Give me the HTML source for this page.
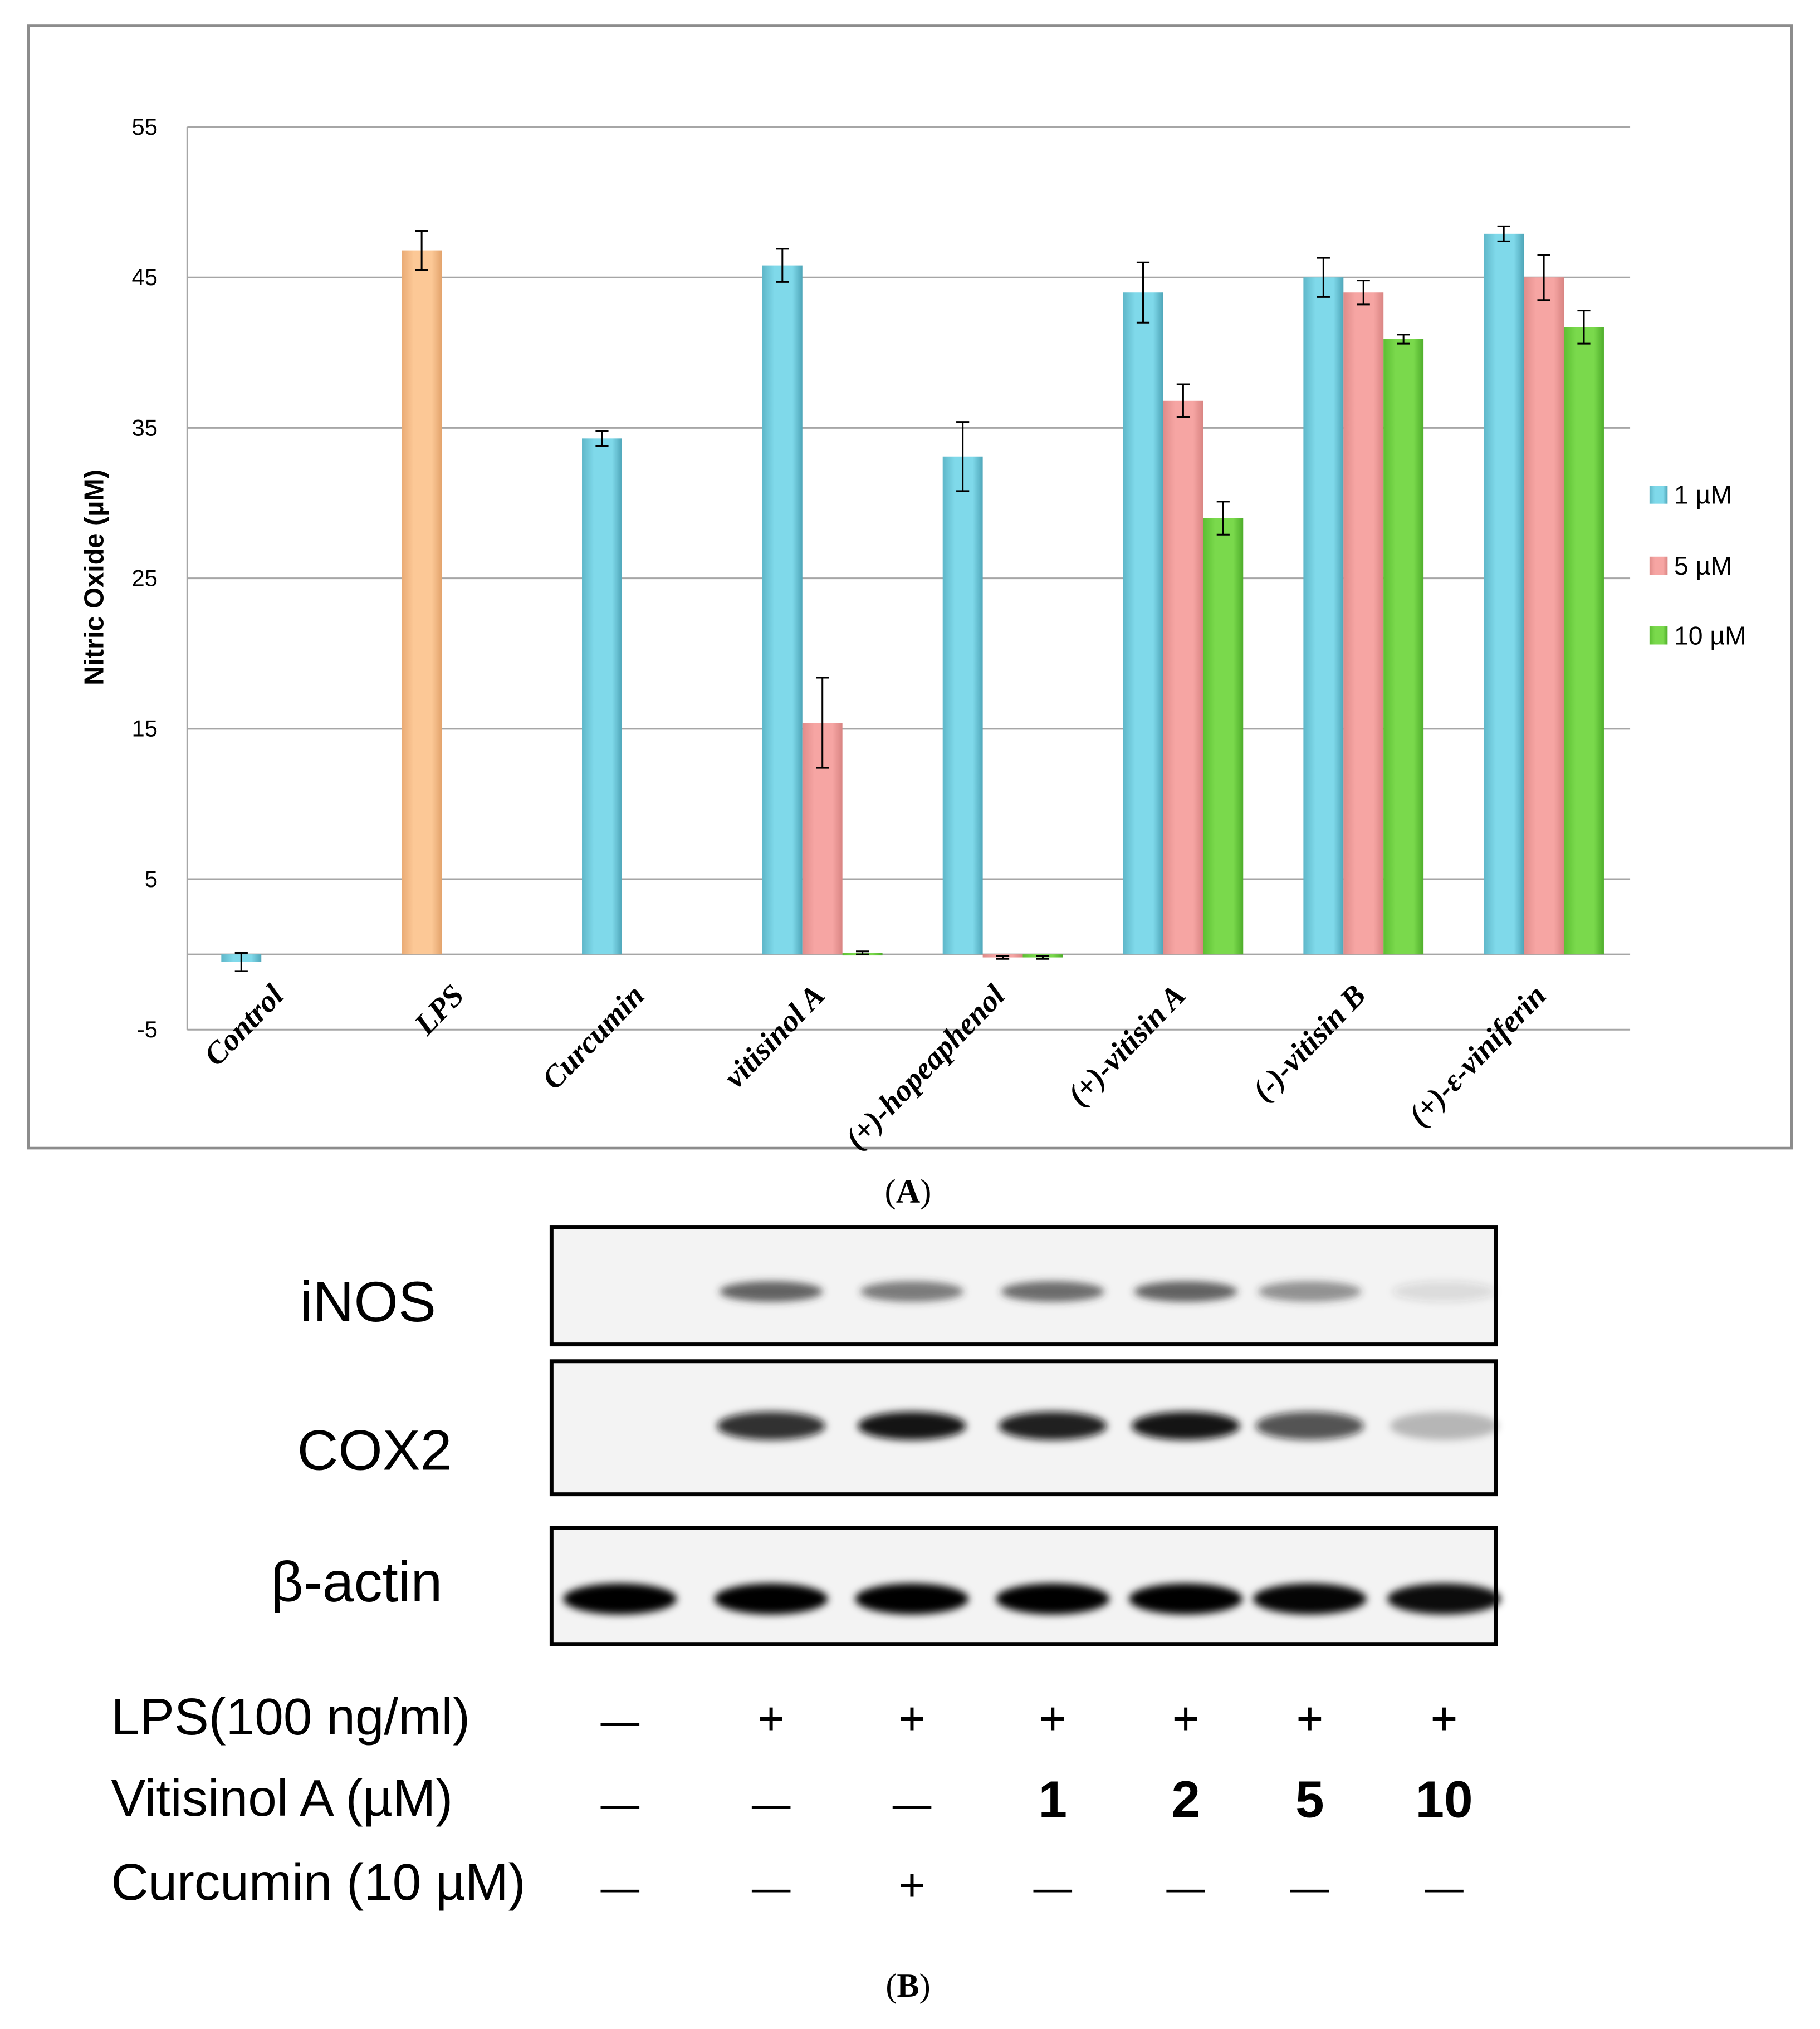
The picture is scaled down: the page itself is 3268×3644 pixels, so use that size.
<!DOCTYPE html>
<html><head><meta charset="utf-8"><style>
html,body{margin:0;padding:0;background:#fff;}
svg{display:block;}
</style></head><body>
<svg id="fig" width="3268" height="3644" viewBox="0 0 1409 1571" xmlns="http://www.w3.org/2000/svg">
<defs>
<filter id="blur3" x="-30%" y="-100%" width="160%" height="300%"><feGaussianBlur stdDeviation="3"/></filter>
<linearGradient id="gb" x1="0" x2="1"><stop offset="0" stop-color="#5fb7c9"/><stop offset="0.3" stop-color="#7fd9ea"/><stop offset="0.75" stop-color="#7fd9ea"/><stop offset="1" stop-color="#4fa6b9"/></linearGradient>
<linearGradient id="gp" x1="0" x2="1"><stop offset="0" stop-color="#e08c8a"/><stop offset="0.3" stop-color="#f6a5a3"/><stop offset="0.75" stop-color="#f6a5a3"/><stop offset="1" stop-color="#d98583"/></linearGradient>
<linearGradient id="gg" x1="0" x2="1"><stop offset="0" stop-color="#5cbf33"/><stop offset="0.3" stop-color="#7ad94c"/><stop offset="0.75" stop-color="#7ad94c"/><stop offset="1" stop-color="#4fae2b"/></linearGradient>
<linearGradient id="go" x1="0" x2="1"><stop offset="0" stop-color="#e9aa74"/><stop offset="0.3" stop-color="#fcc896"/><stop offset="0.75" stop-color="#fcc896"/><stop offset="1" stop-color="#e3a46d"/></linearGradient>
</defs>
<rect x="22" y="20" width="1365" height="869" fill="#fff" stroke="#8c8c8c" stroke-width="2"/>
<g id="grid"></g>
<g id="bars"></g>
<g id="errs"></g>
<g id="xlabels"></g>
<text transform="translate(80,447) rotate(-90)" text-anchor="middle" font-family="Liberation Sans, sans-serif" font-weight="bold" font-size="21">Nitric Oxide (µM)</text>
<g font-family="Liberation Sans, sans-serif" font-size="20">
<rect x="1277" y="376" width="14" height="14" fill="url(#gb)"/>
<text x="1296" y="390">1 µM</text>
<rect x="1277" y="431" width="14" height="14" fill="url(#gp)"/>
<text x="1296" y="445">5 µM</text>
<rect x="1277" y="485" width="14" height="14" fill="url(#gg)"/>
<text x="1296" y="499">10 µM</text>
</g>
<text x="703" y="931" text-anchor="middle" font-family="Liberation Serif, serif" font-size="26">(<tspan font-weight="bold">A</tspan>)</text>

<g id="blot"></g>
<g font-family="Liberation Sans, sans-serif" fill="#000">
<text x="285" y="1023" text-anchor="middle" font-size="44">iNOS</text>
<text x="290" y="1138" text-anchor="middle" font-size="44">COX2</text>
<text x="276" y="1240" text-anchor="middle" font-size="44">β-actin</text>
<text x="86" y="1343" font-size="40">LPS(100 ng/ml)</text>
<text x="86" y="1406" font-size="40">Vitisinol A (µM)</text>
<text x="86" y="1471" font-size="40">Curcumin (10 µM)</text>
</g>
<g id="signs" font-family="Liberation Sans, sans-serif"></g>
<text x="703" y="1546" text-anchor="middle" font-family="Liberation Serif, serif" font-size="26">(<tspan font-weight="bold">B</tspan>)</text>
</svg>
<script>
const categories=["Control","LPS","Curcumin","vitisinol A","(+)-hopeaphenol","(+)-vitisin A","(-)-vitisin B","(+)-ε-viniferin"];
const series1=[-0.5,null,34.3,45.8,33.1,44.0,45.0,47.9];
const err1=[0.6,null,0.5,1.1,2.3,2.0,1.3,0.5];
const series5=[null,null,null,15.4,-0.2,36.8,44.0,45.0];
const err5=[null,null,null,3.0,0.1,1.1,0.8,1.5];
const series10=[null,null,null,0.1,-0.2,29.0,40.9,41.7];
const err10=[null,null,null,0.1,0.1,1.1,0.3,1.1];
const seriesLPS=[null,46.8,null,null,null,null,null,null];
const errLPS=[null,1.3,null,null,null,null,null,null];
const yTicks=[-5,5,15,25,35,45,55];
const lanes=[1,2,3,4,5,6,7];
const inos=[0,0.75,0.62,0.7,0.75,0.5,0.12];
const cox2=[0,0.85,0.97,0.92,0.97,0.7,0.25];
const actin=[1,1,1,1,1,0.98,0.95];
const lpsSigns=["—","+","+","+","+","+","+"];
const vitSigns=["—","—","—","1","2","5","10"];
const curSigns=["—","—","+","—","—","—","—"];

const NS="http://www.w3.org/2000/svg";
function mk(tag,attrs,parent){const e=document.createElementNS(NS,tag);for(const k in attrs)e.setAttribute(k,attrs[k]);parent.appendChild(e);return e;}
const X0=145,X1=1262,Y0=739,PPU=11.65;
const y=v=>Y0-v*PPU;
const catW=(X1-X0)/categories.length, slotW=31;
const slotX=(i,s)=>X0+3+catW*(i+0.5)-1.5*slotW+s*slotW;

const grid=document.getElementById('grid');
yTicks.forEach(t=>{
  const l=mk('line',{x1:X0,x2:X1,y1:y(t),y2:y(t),stroke:'#a6a6a6','stroke-width':1.3},grid);
  
  
  const tx=mk('text',{x:122,y:y(t)+6,'text-anchor':'end','font-family':'Liberation Sans, sans-serif','font-size':18},grid);
  tx.textContent=t;
  
  
});
const axis=mk('line',{x1:X0,x2:X0,y1:y(55),y2:y(-5),stroke:'#a6a6a6','stroke-width':1.3},grid);


const zl=mk('line',{x1:X0,x2:X1,y1:y(0),y2:y(0),stroke:'#a6a6a6','stroke-width':1.3},grid);



const bars=document.getElementById('bars'),errs=document.getElementById('errs');
function drawSeries(vals,es,slot,fill,name){
  vals.forEach((v,i)=>{
    if(v===null)return;
    const x=slotX(i,slot);
    const top=Math.min(y(v),y(0)),h=Math.max(Math.abs(y(v)-y(0)),2);
    const r=mk('rect',{x:x,y:top,width:slotW,height:h,fill:fill},bars);
    
    
    const e=es[i];
    if(e){
      const cx=x+slotW/2;
      const g=mk('path',{d:`M${cx},${y(v+e)}V${y(v-e)}M${cx-5},${y(v+e)}H${cx+5}M${cx-5},${y(v-e)}H${cx+5}`,stroke:'#000','stroke-width':1.3,fill:'none'},errs);
      
      
    }
  });
}
drawSeries(series1,err1,0,'url(#gb)','1um');
drawSeries(seriesLPS,errLPS,0,'url(#go)','lps');
drawSeries(series5,err5,1,'url(#gp)','5um');
drawSeries(series10,err10,2,'url(#gg)','10um');

const xl=document.getElementById('xlabels');
categories.forEach((c,i)=>{
  const x=slotX(i,0)+slotW/2+34, yy=772;
  const t=mk('text',{transform:`translate(${x},${yy}) rotate(-46)`,'text-anchor':'end','font-family':'Liberation Serif, serif','font-weight':'bold','font-style':'italic','font-size':24},xl);
  t.textContent=c;
  
  
});

const blot=document.getElementById('blot');
const laneX=[480,597,706,815,918,1014,1118];
function panel(y0,h,name,vals,by,bh,bw,dark){
  const bg=mk('rect',{x:427,y:y0,width:731,height:h,fill:'#f3f3f3',stroke:'#000','stroke-width':3},blot);
  
  
  vals.forEach((v,i)=>{
    if(v<=0)return;
    const b=mk('ellipse',{cx:laneX[i],cy:by,rx:bw,ry:bh,fill:dark,'fill-opacity':v,filter:'url(#blur3)'},blot);
    
    
  });
}
panel(950,91,'inos',inos,1000,8,40,'#333');
panel(1054,103,'cox2',cox2,1104,11,42,'#111');
panel(1183,90,'actin',actin,1238,12,44,'#000');

const sg=document.getElementById('signs');
function row(arr,yy,name){
  arr.forEach((s,i)=>{
    const bold=/\d/.test(s);
    const dash=s==="—";
    const t=mk('text',{x:laneX[i],y:yy,'text-anchor':'middle','font-size':bold?40:(dash?30:36),'font-weight':bold?'bold':'normal'},sg);
    t.textContent=s;
    
    
  });
}
row(lpsSigns,1343,'lps-sign');
row(vitSigns,1407,'vitisinol-sign');
row(curSigns,1472,'curcumin-sign');
</script>
</body></html>
